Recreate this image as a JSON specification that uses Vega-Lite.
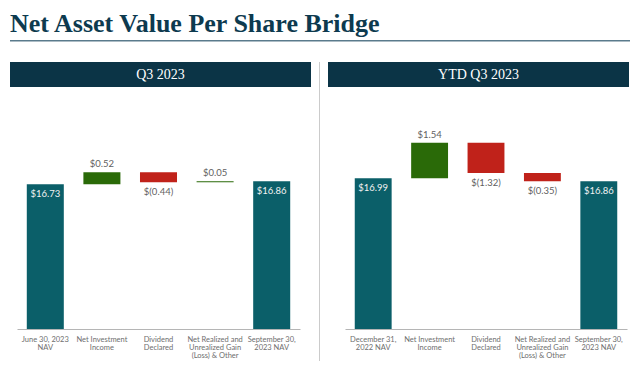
{
  "$schema": "https://vega.github.io/schema/vega-lite/v6.json",
  "padding": {"left": 10, "top": 10, "right": 0, "bottom": 0},
  "background": "white",
  "title": {"text": "Net Asset Value Per Share Bridge", "anchor": "start", "font": "Liberation Serif", "fontSize": 26, "fontWeight": "bold", "color": "#0d3a4f", "offset": -2},
  "config": {"view": {"stroke": null}},
  "datasets": {
    "bridge": [
      {"panel": "Q3 2023", "order": 1, "category": "June 30, 2023|NAV", "type": "NAV", "start": null, "end": 16.73, "label": "$16.73"},
      {"panel": "Q3 2023", "order": 2, "category": "Net Investment|Income", "type": "Increase", "start": 16.73, "end": 17.25, "label": "$0.52"},
      {"panel": "Q3 2023", "order": 3, "category": "Dividend|Declared", "type": "Decrease", "start": 17.25, "end": 16.81, "label": "$(0.44)"},
      {"panel": "Q3 2023", "order": 4, "category": "Net Realized and|Unrealized Gain|(Loss) & Other", "type": "Increase", "start": 16.81, "end": 16.86, "label": "$0.05"},
      {"panel": "Q3 2023", "order": 5, "category": "September 30,|2023 NAV", "type": "NAV", "start": null, "end": 16.86, "label": "$16.86"},
      {"panel": "YTD Q3 2023", "order": 1, "category": "December 31,|2022 NAV", "type": "NAV", "start": null, "end": 16.99, "label": "$16.99"},
      {"panel": "YTD Q3 2023", "order": 2, "category": "Net Investment|Income", "type": "Increase", "start": 16.99, "end": 18.53, "label": "$1.54"},
      {"panel": "YTD Q3 2023", "order": 3, "category": "Dividend|Declared", "type": "Decrease", "start": 18.53, "end": 17.21, "label": "$(1.32)"},
      {"panel": "YTD Q3 2023", "order": 4, "category": "Net Realized and|Unrealized Gain|(Loss) & Other", "type": "Decrease", "start": 17.21, "end": 16.86, "label": "$(0.35)"},
      {"panel": "YTD Q3 2023", "order": 5, "category": "September 30,|2023 NAV", "type": "NAV", "start": null, "end": 16.86, "label": "$16.86"}
    ],
    "headers": [{"panel": "Q3 2023"}, {"panel": "YTD Q3 2023"}]
  },
  "spacing": 16,
  "vconcat": [
    {
      "width": 620, "height": 1.5,
      "view": {"fill": "#5a7b8c", "stroke": null},
      "data": {"values": [{}]},
      "mark": "text",
      "encoding": {"text": {"value": ""}}
    },
    {
      "spacing": 8,
      "hconcat": [
        {
          "spacing": 10,
          "vconcat": [
            {
              "width": 301, "height": 25,
              "view": {"fill": "#0b3446", "stroke": null},
              "data": {"name": "headers"},
              "transform": [{"filter": "datum.panel == 'Q3 2023'"}],
              "mark": {"type": "text", "font": "Liberation Serif", "fontSize": 14, "color": "white"},
              "encoding": {"text": {"field": "panel"}}
            },
            {
              "width": 301, "height": 232,
              "data": {"name": "bridge"},
              "transform": [{"filter": "datum.panel == 'Q3 2023'"}],
              "encoding": {
                "x": {"field": "category", "type": "nominal", "sort": {"field": "order", "op": "min"},
                  "scale": {"range": [7, 290], "paddingInner": 0.346, "paddingOuter": 0.173},
                  "axis": {"title": null, "ticks": false, "domainColor": "#b5b5b5", "labelFont": "Lato", "labelFontSize": 7.5, "labelColor": "#6e6e6e", "labelLineHeight": 8, "labelPadding": 6, "labelAngle": 0, "labelBaseline": "top", "labelLimit": 0, "labelExpr": "split(datum.value, '|')"}},
                "y": {"field": "end", "type": "quantitative", "stack": null, "scale": {"domain": [10.43, 20.52], "nice": false, "zero": false}, "axis": null},
                "color": {"field": "type", "type": "nominal", "scale": {"domain": ["NAV", "Increase", "Decrease"], "range": ["#0b5f69", "#2a6a08", "#c0221a"]}, "legend": null}
              },
              "layer": [
                {"transform": [{"filter": "datum.type == 'NAV'"}], "mark": {"type": "bar"}},
                {"transform": [{"filter": "datum.type != 'NAV'"}], "mark": {"type": "bar"}, "encoding": {"y": {"field": "start", "type": "quantitative"}, "y2": {"field": "end"}}},
                {"transform": [{"filter": "datum.type == 'Increase'"}], "mark": {"type": "text", "baseline": "bottom", "dy": -3, "font": "Lato", "fontSize": 9.5}, "encoding": {"text": {"field": "label"}, "color": {"value": "#5f5f5f"}}},
                {"transform": [{"filter": "datum.type == 'Decrease'"}], "mark": {"type": "text", "baseline": "top", "dy": 5, "font": "Lato", "fontSize": 9.5}, "encoding": {"text": {"field": "label"}, "color": {"value": "#5f5f5f"}}},
                {"transform": [{"filter": "datum.type == 'NAV'"}], "mark": {"type": "text", "baseline": "top", "dy": 5, "font": "Lato", "fontSize": 9.5}, "encoding": {"text": {"field": "label"}, "color": {"value": "#f2f2f2"}}}
              ]
            }
          ]
        },
        {
          "width": 1, "height": 299,
          "view": {"fill": "#cbcbcb", "stroke": null},
          "data": {"values": [{}]},
          "mark": "text",
          "encoding": {"text": {"value": ""}}
        },
        {
          "spacing": 10,
          "vconcat": [
            {
              "width": 301, "height": 25,
              "view": {"fill": "#0b3446", "stroke": null},
              "data": {"name": "headers"},
              "transform": [{"filter": "datum.panel == 'YTD Q3 2023'"}],
              "mark": {"type": "text", "font": "Liberation Serif", "fontSize": 14, "color": "white"},
              "encoding": {"text": {"field": "panel"}}
            },
            {
              "width": 301, "height": 232,
              "data": {"name": "bridge"},
              "transform": [{"filter": "datum.panel == 'YTD Q3 2023'"}],
              "encoding": {
                "x": {"field": "category", "type": "nominal", "sort": {"field": "order", "op": "min"},
                  "scale": {"range": [17, 299], "paddingInner": 0.346, "paddingOuter": 0.173},
                  "axis": {"title": null, "ticks": false, "domainColor": "#b5b5b5", "labelFont": "Lato", "labelFontSize": 7.5, "labelColor": "#6e6e6e", "labelLineHeight": 8, "labelPadding": 6, "labelAngle": 0, "labelBaseline": "top", "labelLimit": 0, "labelExpr": "split(datum.value, '|')"}},
                "y": {"field": "end", "type": "quantitative", "stack": null, "scale": {"domain": [10.43, 20.52], "nice": false, "zero": false}, "axis": null},
                "color": {"field": "type", "type": "nominal", "scale": {"domain": ["NAV", "Increase", "Decrease"], "range": ["#0b5f69", "#2a6a08", "#c0221a"]}, "legend": null}
              },
              "layer": [
                {"transform": [{"filter": "datum.type == 'NAV'"}], "mark": {"type": "bar"}},
                {"transform": [{"filter": "datum.type != 'NAV'"}], "mark": {"type": "bar"}, "encoding": {"y": {"field": "start", "type": "quantitative"}, "y2": {"field": "end"}}},
                {"transform": [{"filter": "datum.type == 'Increase'"}], "mark": {"type": "text", "baseline": "bottom", "dy": -3, "font": "Lato", "fontSize": 9.5}, "encoding": {"text": {"field": "label"}, "color": {"value": "#5f5f5f"}}},
                {"transform": [{"filter": "datum.type == 'Decrease'"}], "mark": {"type": "text", "baseline": "top", "dy": 5, "font": "Lato", "fontSize": 9.5}, "encoding": {"text": {"field": "label"}, "color": {"value": "#5f5f5f"}}},
                {"transform": [{"filter": "datum.type == 'NAV'"}], "mark": {"type": "text", "baseline": "top", "dy": 5, "font": "Lato", "fontSize": 9.5}, "encoding": {"text": {"field": "label"}, "color": {"value": "#f2f2f2"}}}
              ]
            }
          ]
        }
      ]
    }
  ]
}
